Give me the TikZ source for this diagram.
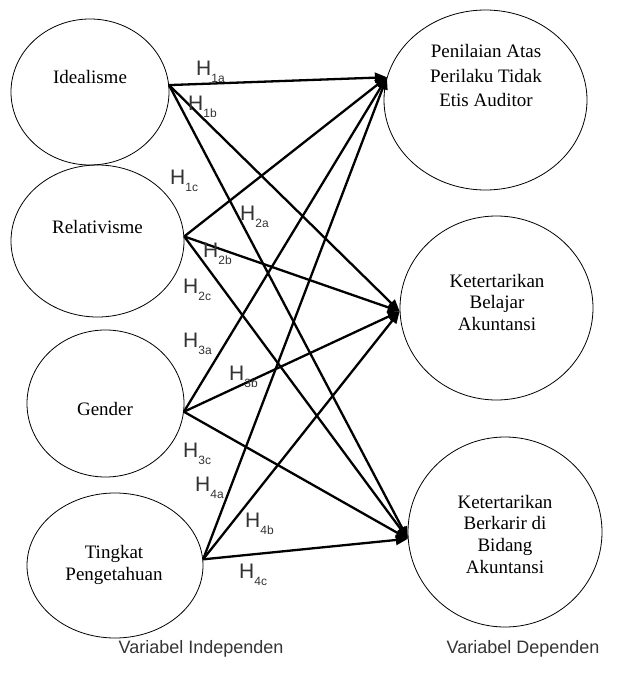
\documentclass[tikz,border=0pt]{standalone}
\usepackage{fontspec}
\setmainfont{Liberation Serif}
\newfontfamily\labfont{Liberation Sans}
\usetikzlibrary{shapes.geometric,arrows.meta}
\definecolor{labgray}{HTML}{333333}
\newcommand\mlines[2]{\vtop{\baselineskip=#1\lineskiplimit=-100pt\halign{\hfil##\hfil\cr#2\crcr}}}
\newcommand\hlab[1]{{\fontsize{21}{21}\selectfont H}\raisebox{-7pt}{\fontsize{12}{12}\selectfont #1}}
\tikzset{
  var/.style={ellipse, draw, line width=0.8pt, inner sep=0pt},
  vtext/.style={anchor=base, inner sep=0pt, font=\fontsize{19}{22}\selectfont},
  hyp/.style={anchor=base west, inner sep=0pt, text=labgray, font=\labfont},
  conn/.style={line width=2.3pt, -{Triangle[length=12pt,width=10pt]}},
  foot/.style={anchor=base, inner sep=0pt, text=labgray, font=\labfont\fontsize{18}{18}\selectfont}
}
\begin{document}
\begin{tikzpicture}[x=1pt,y=-1pt]
\useasboundingbox (0,0) rectangle (622,685);
% independent variables
\node[var, minimum width=158pt, minimum height=146pt] (ide) at (90,92) {};
\node[var, minimum width=173pt, minimum height=152pt] (rel) at (97.5,241) {};
\node[var, minimum width=157pt, minimum height=147pt] (gen) at (105.5,403.5) {};
\node[var, minimum width=176pt, minimum height=145pt] (tin) at (115,565.5) {};
% dependent variables
\node[var, minimum width=203pt, minimum height=180pt] (d1) at (485.5,100) {};
\node[var, minimum width=193pt, minimum height=184pt] (d2) at (496.5,308) {};
\node[var, minimum width=194pt, minimum height=190pt] (d3) at (505,532) {};
% texts
\node[vtext] (tide) at (90,84) {Idealisme};
\node[vtext] (trel) at (97.5,233) {Relativisme};
\node[vtext] (tgen) at (105,415) {Gender};
\node[vtext] (ttin) at (114,558) {\mlines{22pt}{Tingkat\cr Pengetahuan}};
\node[vtext] (td1) at (486,58) {\mlines{24.5pt}{Penilaian Atas\cr Perilaku Tidak\cr Etis Auditor}};
\node[vtext] (td2) at (497,287) {\mlines{21.7pt}{Ketertarikan\cr Belajar\cr Akuntansi}};
\node[vtext] (td3) at (505,508) {\mlines{21.8pt}{Ketertarikan\cr Berkarir di\cr Bidang\cr Akuntansi}};
% connectors
\draw[conn] (ide.5) -- (d1.167.5);
\draw[conn] (ide.5) -- (d2.182.9);
\draw[conn] (ide.5) -- (d3.184.7);
\draw[conn] (rel.3.3) -- (d1.167.5);
\draw[conn] (rel.3.3) -- (d2.182.9);
\draw[conn] (rel.3.3) -- (d3.184.7);
\draw[conn] (gen.-6.9) -- (d1.167.5);
\draw[conn] (gen.-6.9) -- (d2.182.9);
\draw[conn] (gen.-6.9) -- (d3.184.7);
\draw[conn] (tin.4.2) -- (d1.167.5);
\draw[conn] (tin.4.2) -- (d2.182.9);
\draw[conn] (tin.4.2) -- (d3.184.7);
% hypothesis labels
\node[hyp] (h1a) at (196,75) {\hlab{1a}};
\node[hyp] (h1b) at (188,110) {\hlab{1b}};
\node[hyp] (h1c) at (170,184) {\hlab{1c}};
\node[hyp] (h2a) at (240,220) {\hlab{2a}};
\node[hyp] (h2b) at (203,257) {\hlab{2b}};
\node[hyp] (h2c) at (183,293) {\hlab{2c}};
\node[hyp] (h3a) at (183,347) {\hlab{3a}};
\node[hyp] (h3b) at (229,380) {\hlab{3b}};
\node[hyp] (h3c) at (183,457) {\hlab{3c}};
\node[hyp] (h4a) at (195,491) {\hlab{4a}};
\node[hyp] (h4b) at (245,527) {\hlab{4b}};
\node[hyp] (h4c) at (239,578) {\hlab{4c}};
% footers
\node[foot] (fi) at (201,653) {Variabel Independen};
\node[foot] (fd) at (523,653) {Variabel Dependen};
\end{tikzpicture}
\end{document}
